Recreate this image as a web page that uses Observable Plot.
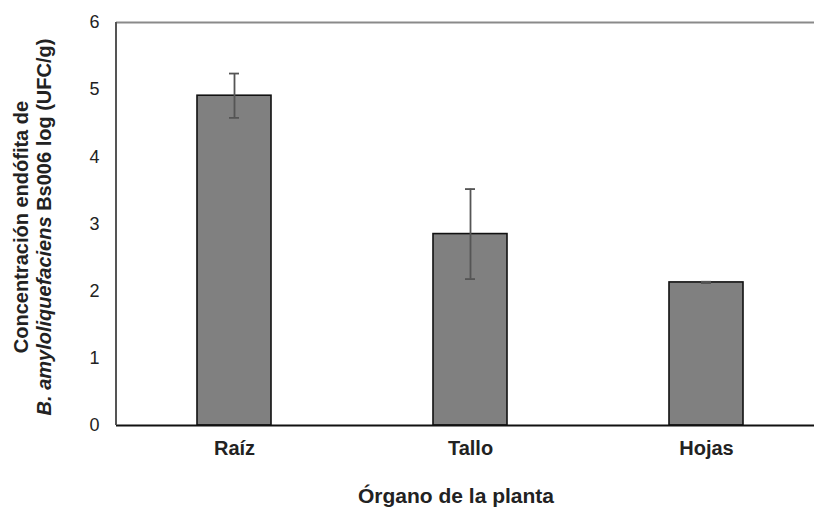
<!DOCTYPE html>
<html>
<head>
<meta charset="utf-8">
<script src="https://cdn.jsdelivr.net/npm/d3@7"></script>
<script src="https://cdn.jsdelivr.net/npm/@observablehq/plot@0.6"></script>
<style>
  html, body { margin: 0; padding: 0; background: #fff; }
  #chart svg { display: block; }
</style>
</head>
<body>
<div id="chart"></div>
<script>
const organs = ["Raíz", "Tallo", "Hojas"];
const means = [4.91, 2.85, 2.13];
const errors = [0.33, 0.67, 0.01];
const yTicks = [0, 1, 2, 3, 4, 5, 6];

const data = organs.map((o, i) => ({organ: o, mean: means[i], lo: means[i] - errors[i], hi: means[i] + errors[i]}));

const W = 814, H = 507;
const mLeft = 116, xRight = 824, mTop = 22, yBottom = 425;
const FONT = "'Liberation Sans', Arial, sans-serif";

const chart = Plot.plot({
  width: W,
  height: H,
  marginLeft: mLeft,
  marginRight: 0,
  marginTop: mTop,
  marginBottom: H - yBottom,
  style: {fontFamily: FONT, background: "#fff"},
  x: {domain: organs, range: [mLeft, xRight], padding: 0, label: null},
  y: {domain: [0, 6], ticks: yTicks, label: null},
  marks: [
    Plot.ruleY([6], {stroke: "#8a8a8a", strokeWidth: 2}),
    Plot.barY(data, {x: "organ", y: "mean", fill: "#808080", stroke: "#111", strokeWidth: 1.6, insetLeft: 81, insetRight: 81}),
    Plot.ruleX(data, {x: "organ", y1: "lo", y2: "hi", stroke: "#555", strokeWidth: 1.8}),
    Plot.tickY(data, {x: "organ", y: "hi", stroke: "#555", strokeWidth: 1.8, insetLeft: 113, insetRight: 113}),
    Plot.tickY(data, {x: "organ", y: "lo", stroke: "#555", strokeWidth: 1.8, insetLeft: 113, insetRight: 113}),
    Plot.axisY({ticks: yTicks, tickFormat: "d", tickSize: 0, tickPadding: 17, fontSize: 18, fill: "#222", label: null}),
    Plot.axisX({tickSize: 0, tickPadding: 15, fontSize: 20, fontWeight: "bold", fill: "#222", label: null}),
    Plot.ruleY([0], {stroke: "#111", strokeWidth: 2.2})
  ]
});

document.getElementById("chart").appendChild(chart);

const svg = d3.select(chart);
// left frame line
svg.append("line").attr("x1", mLeft).attr("x2", mLeft).attr("y1", mTop).attr("y2", yBottom)
  .attr("stroke", "#555").attr("stroke-width", 2);
// x axis title
svg.append("text").attr("x", 456).attr("y", 503).attr("text-anchor", "middle")
  .attr("font-family", FONT).attr("font-size", 21)
  .attr("font-weight", "bold").attr("fill", "#222").text("Órgano de la planta");
// y axis title (two lines, rotated)
const yt = svg.append("text").attr("transform", "translate(0,227) rotate(-90)")
  .attr("text-anchor", "middle").attr("font-family", FONT)
  .attr("font-size", 20).attr("font-weight", "bold").attr("fill", "#222");
yt.append("tspan").attr("x", 0).attr("y", 28).text("Concentración endófita de");
const l2 = yt.append("tspan").attr("x", 0).attr("y", 51);
l2.append("tspan").attr("font-style", "italic").text("B. amyloliquefaciens");
l2.append("tspan").text(" Bs006 log (UFC/g)");
</script>
</body>
</html>
